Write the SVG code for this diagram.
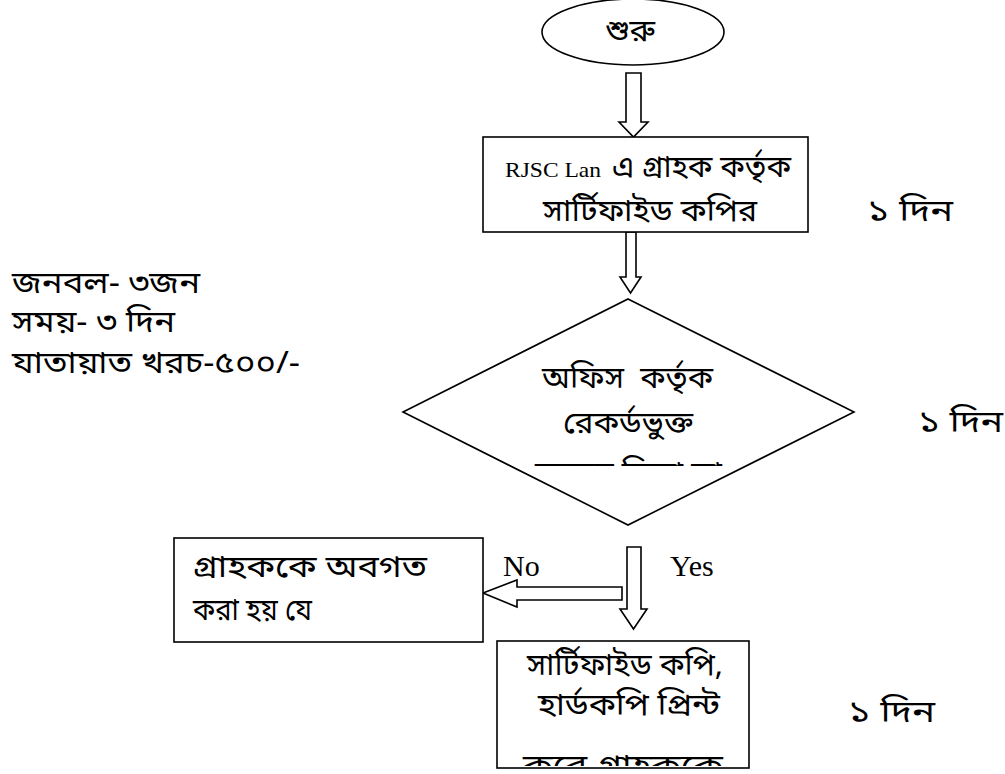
<svg xmlns="http://www.w3.org/2000/svg" width="1005" height="774" viewBox="0 0 1005 774">
<style>
.shape{fill:#fff;stroke:#000;stroke-width:1.6}
.arrow{fill:#fff;stroke:#000;stroke-width:1.6;stroke-linejoin:miter}
.bn{font-family:"Vrinda","Noto Sans Bengali","Noto Serif Bengali","Lohit Bengali",sans-serif;font-size:31px;fill:#000}
.en{font-family:"Liberation Serif","Times New Roman",serif;fill:#000}
</style>
<defs>
<clipPath id="clipD"><rect x="400" y="440" width="460" height="26"/></clipPath>
<clipPath id="clipB"><rect x="497" y="730" width="252" height="36"/></clipPath>
</defs>
<rect width="1005" height="774" fill="#fff"/>
<g id="connectors">
<polygon class="arrow" points="626,73 641,73 641,122 648,122 633.5,137 619,122 626,122"/>
<polygon class="arrow" points="626,232 636,232 636,277 641,277 630.5,293 620,277 626,277"/>
<polygon class="arrow" points="627,547 641,547 641,609 647,609 633.5,629 620,609 627,609"/>
<polygon class="arrow" points="622,587 622,600 517,600 517,607 483,593 517,580 517,587"/>
<text class="en" x="503" y="576" font-size="30">No</text>
<text class="en" x="670" y="576" font-size="30">Yes</text>
</g>
<g id="start">
<ellipse class="shape" cx="633" cy="32" rx="91" ry="33"/>
<text class="bn" x="605" y="41" textLength="50" lengthAdjust="spacingAndGlyphs">শুরু</text>
</g>
<g id="box1">
<rect class="shape" x="483" y="137" width="325" height="95"/>
<text class="en" x="505" y="177" font-size="22" textLength="96" lengthAdjust="spacingAndGlyphs">RJSC Lan</text>
<text class="bn" x="612" y="177" textLength="179" lengthAdjust="spacingAndGlyphs">এ গ্রাহক কর্তৃক</text>
<text class="bn" x="543" y="221" textLength="214" lengthAdjust="spacingAndGlyphs">সার্টিফাইড কপির</text>
</g>
<g id="decision">
<polygon class="shape" points="628,299 854,412 628,525 403,412"/>
<text class="bn" x="542" y="388" textLength="171" lengthAdjust="spacingAndGlyphs" xml:space="preserve">অফিস  কর্তৃক</text>
<text class="bn" x="563" y="433" textLength="130" lengthAdjust="spacingAndGlyphs">রেকর্ডভুক্ত</text>
<text class="bn" x="535" y="483" textLength="187" lengthAdjust="spacingAndGlyphs" clip-path="url(#clipD)">হয়েছে কিনা তা</text>
</g>
<g id="noBox">
<rect class="shape" x="174" y="538" width="309" height="104"/>
<text class="bn" x="193" y="577" font-size="33" textLength="234" lengthAdjust="spacingAndGlyphs">গ্রাহককে অবগত</text>
<text class="bn" x="193" y="620" font-size="33" textLength="119" lengthAdjust="spacingAndGlyphs">করা হয় যে</text>
</g>
<g id="yesBox">
<rect class="shape" x="497" y="641" width="252" height="127"/>
<text class="bn" x="527" y="675" font-size="30" textLength="196" lengthAdjust="spacingAndGlyphs">সার্টিফাইড কপি,</text>
<text class="bn" x="538" y="715" font-size="30" textLength="182" lengthAdjust="spacingAndGlyphs">হার্ডকপি প্রিন্ট</text>
<text class="bn" x="523" y="776" font-size="30" textLength="200" lengthAdjust="spacingAndGlyphs" clip-path="url(#clipB)">করে গ্রাহককে</text>
</g>
<g id="notes">
<text class="bn" x="12" y="293" font-size="32" textLength="188" lengthAdjust="spacingAndGlyphs">জনবল- ৩জন</text>
<text class="bn" x="12" y="332" font-size="32" textLength="163" lengthAdjust="spacingAndGlyphs">সময়- ৩ দিন</text>
<text class="bn" x="12" y="373" font-size="32" textLength="288" lengthAdjust="spacingAndGlyphs">যাতায়াত খরচ-৫০০/-</text>
</g>
<g id="durations">
<text class="bn" x="867" y="221" font-size="37" textLength="86" lengthAdjust="spacingAndGlyphs">১ দিন</text>
<text class="bn" x="918" y="432" font-size="37" textLength="85" lengthAdjust="spacingAndGlyphs">১ দিন</text>
<text class="bn" x="848" y="722" font-size="37" textLength="87" lengthAdjust="spacingAndGlyphs">১ দিন</text>
</g>
</svg>
